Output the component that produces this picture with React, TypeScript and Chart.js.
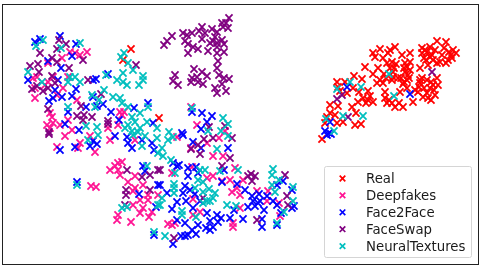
import React, { useEffect, useRef } from "react";
import { Chart, registerables } from "chart.js";

Chart.register(...registerables);

type P = [number, number];

const realPoints: P[] = [
  [437,41],[446,42],[453,50],[456,53],[451,55],[422,48],[430,47],[427,52],[422,53],[432,55],[433,60],[442,55],[448,60],[452,58],[440,62],[446,63],[437,63],[420,68],[428,65],[437,78],[433,85],[435,95],[427,93],[423,97],[418,92],[420,83],[422,78],[427,80],[430,88],[420,80],
  [395,47],[390,50],[380,49],[373,53],[375,57],[388,53],[383,58],[392,62],[387,63],[402,55],[410,53],[405,63],[407,67],[394,68],[378,68],[365,67],[373,74],[405,72],[408,75],[393,72],[407,80],[380,80],[383,83],[392,80],[385,92],[385,98],[400,92],[407,88],[413,102],[403,107],[395,107],[392,103],[363,98],[368,100],[373,102],[358,102],[352,107],[356,113],[355,125],[361,124],[368,91],[359,92],[362,79],[354,76],[337,82],[347,93],[338,106],[330,105],[330,113],[335,115],[325,123],[343,122],[337,123],[327,117],[338,87],
  [131,49],[123,60],[159,118],[322,139],[426,60],[449,52],[444,48],[415,90],[431,100],[398,78],[403,84],
  [410,62],[404,68],[410,70],[401,78],[409,78],[404,82],[377,83],[384,74],[390,68],[393,77],[386,78],[396,64],[424,88],[431,82],[434,90],[428,98],[419,87],[438,85],[425,50],[430,57],[424,58],[435,50],[389,100],[399,103],[387,103],[366,103],[370,96],[340,91],[345,82],[353,88],
];

const deepfakesPoints: P[] = [
  [70,52],[80,55],[87,52],[75,53],[62,58],[48,63],[33,78],[37,77],[53,77],[48,82],[45,85],[35,88],[35,98],[63,88],[57,95],[68,77],[77,100],[52,117],[50,113],[47,125],[53,123],[60,125],[68,120],[72,130],[120,112],[124,112],[122,115],[118,125],[108,128],[50,128],
  [65,136],[80,143],[78,148],[90,136],[95,152],[57,147],[110,140],[91,186],[96,187],[118,163],[122,162],[115,166],[110,170],[118,170],[120,175],[128,182],[135,176],[135,188],[143,185],[133,191],[148,195],[148,200],[140,200],[133,205],[143,208],[140,213],[149,217],[152,212],[118,215],[117,220],[131,222],[158,195],[135,140],
  [177,137],[207,143],[219,138],[213,156],[223,156],[191,148],[172,173],[192,167],[207,178],[213,176],[222,181],[230,180],[235,168],[243,180],[232,192],[237,188],[240,195],[257,191],[268,191],[267,201],[193,199],[193,215],[200,212],[172,225],[175,223],[168,224],[233,223],[233,227],[240,208],[280,216],[279,203],
  [191,107],[197,125],[225,131],
];

const face2facePoints: P[] = [
  [60,36],[40,39],[35,42],[76,44],[48,61],[72,56],[61,68],[28,80],[96,79],[93,80],[108,74],[76,89],[55,90],[62,97],[72,96],[53,98],[49,101],[86,107],[68,112],[97,106],[103,104],[93,97],[111,112],[134,108],[148,103],[119,120],[153,123],[65,124],[79,130],[58,80],
  [115,136],[127,137],[128,143],[132,148],[142,140],[152,143],[154,150],[75,147],[60,150],[93,141],[97,144],[90,146],[77,182],[143,166],[145,171],[139,194],[158,185],[156,207],[154,235],
  [183,135],[193,142],[201,148],[228,148],[173,163],[179,165],[177,166],[188,168],[188,176],[196,167],[198,173],[224,170],[222,182],[237,184],[160,185],[167,193],[185,186],[190,190],[183,193],[195,194],[186,201],[177,202],[200,201],[172,209],[193,208],[207,213],[217,215],[221,218],[218,222],[210,221],[230,218],[234,210],[243,219],[177,220],[185,223],[198,225],[206,228],[210,230],[213,227],[192,230],[196,234],[188,235],[185,236],[181,236],[173,244],[245,190],[252,196],[259,194],[248,207],[253,201],[258,203],[255,206],[260,201],[264,210],[267,196],[273,201],[277,205],[292,208],[292,190],[283,181],[277,185],[281,213],[262,219],[262,227],[277,225],[294,206],
  [192,112],[202,113],[212,116],[207,122],[201,129],[182,133],[347,87],[410,94],[330,122],[325,131],[329,133],[327,135],[331,134],
];

const faceSwapPoints: P[] = [
  [59,40],[66,44],[57,49],[40,53],[83,60],[57,62],[52,58],[30,66],[38,64],[39,72],[69,68],[52,76],[88,80],[32,89],[37,86],[43,91],[48,88],[55,83],[136,65],[101,94],[81,106],[48,109],[77,116],[84,115],[92,117],[83,120],[108,121],[108,124],[49,132],
  [49,134],[127,170],[142,177],[150,175],[158,170],[126,190],[126,195],[150,190],[125,205],
  [204,139],[213,138],[232,138],[191,149],[198,145],[200,154],[230,158],[160,170],[222,166],[251,174],[248,176],[255,176],[252,181],[285,175],[287,196],[203,198],[257,220],[174,238],[288,205],
  [229,18],[222,23],[226,23],[223,27],[228,28],[172,36],[167,41],[164,45],[183,33],[187,35],[192,33],[185,41],[188,44],[202,27],[199,31],[205,33],[202,39],[212,29],[217,32],[215,37],[213,41],[222,40],[210,43],[217,43],[224,44],[217,47],[208,51],[217,53],[224,52],[198,49],[193,47],[188,53],[218,61],[217,68],[219,75],[224,78],[229,79],[222,84],[215,88],[217,93],[226,91],[194,69],[202,72],[207,76],[192,78],[197,77],[191,82],[198,82],[203,84],[175,75],[173,81],[178,85],[209,127],[225,126],
  [432,72],[342,95],[337,99],[348,117],
];

const neuralTexturesPoints: P[] = [
  [43,40],[36,46],[80,43],[61,48],[28,72],[42,82],[70,77],[75,77],[68,82],[80,82],[124,53],[121,57],[128,63],[133,70],[106,75],[123,73],[117,80],[123,82],[127,85],[143,76],[143,80],[139,85],[104,90],[92,95],[99,100],[95,107],[113,97],[120,98],[122,103],[128,107],[140,113],[148,107],[68,107],[132,117],[128,125],[135,122],[140,128],[147,122],[157,128],[86,126],[97,127],[132,131],[138,132],[125,128],
  [98,135],[133,135],[145,136],[157,138],[142,146],[88,140],[158,153],[147,166],[77,185],[122,208],[127,207],[158,205],[154,232],
  [168,140],[173,137],[162,148],[163,156],[228,136],[217,149],[171,160],[175,173],[200,170],[205,170],[220,171],[238,170],[198,180],[203,182],[174,184],[174,188],[174,193],[195,188],[203,192],[209,189],[215,193],[213,198],[210,201],[203,203],[207,201],[227,205],[236,206],[182,211],[182,215],[196,217],[165,236],[273,169],[272,175],[272,185],[279,180],[275,192],[293,187],[293,201],[284,212],[277,223],[160,205],[162,198],
  [192,108],[223,118],[228,124],[208,131],[221,131],[169,132],
  [350,82],[337,89],[361,87],[389,74],[394,96],[343,116],[363,116],[326,119],[334,131],
];

const seriesLabels = ["Real", "Deepfakes", "Face2Face", "FaceSwap", "NeuralTextures"];
const seriesPoints = [realPoints, deepfakesPoints, face2facePoints, faceSwapPoints, neuralTexturesPoints];
const seriesColors = ["#ff0000", "#ff1493", "#0000ff", "#800080", "#00bfbf"];

const FONT = '13.3px "DejaVu Sans"';

const framePlugin = {
  id: "frame",
  afterDatasetsDraw(chart: any) {
    const { left, top, width, height } = chart.chartArea;
    const ctx = chart.ctx;
    ctx.save();
    ctx.strokeStyle = "#222222";
    ctx.lineWidth = 1;
    ctx.strokeRect(left + 0.5, top + 0.5, width, height);

    // legend box
    const bx = 324.5, by = 166.5, bw = 147, bh = 91;
    ctx.globalAlpha = 0.9;
    ctx.fillStyle = "#ffffff";
    ctx.beginPath();
    ctx.roundRect(bx, by, bw, bh, 2);
    ctx.fill();
    ctx.globalAlpha = 1;
    ctx.strokeStyle = "#d5d5d5";
    ctx.stroke();

    ctx.font = FONT;
    ctx.textBaseline = "alphabetic";
    ctx.textAlign = "left";
    seriesLabels.forEach((label, i) => {
      const cy = 178.5 + i * 16.9;
      const mx = 342.5;
      ctx.strokeStyle = seriesColors[i];
      ctx.lineWidth = 1.7;
      ctx.beginPath();
      ctx.moveTo(mx - 2.8, cy - 2.8);
      ctx.lineTo(mx + 2.8, cy + 2.8);
      ctx.moveTo(mx - 2.8, cy + 2.8);
      ctx.lineTo(mx + 2.8, cy - 2.8);
      ctx.stroke();
      ctx.fillStyle = "#1a1a1a";
      ctx.fillText(label, 366, cy + 4.5);
    });
    ctx.restore();
  },
};

export default function App() {
  const ref = useRef<HTMLCanvasElement>(null);
  useEffect(() => {
    if (!ref.current) return;
    const chart = new Chart(ref.current, {
      type: "scatter",
      data: {
        datasets: seriesLabels.map((label, i) => ({
          label,
          data: seriesPoints[i].map(([x, y]) => ({ x, y })),
          order: seriesLabels.length - i,
          pointStyle: "crossRot",
          pointRadius: 5,
          pointBorderWidth: 1.8,
          borderColor: seriesColors[i],
          backgroundColor: seriesColors[i],
          showLine: false,
        })),
      },
      options: {
        animation: false,
        responsive: false,
        layout: { autoPadding: false, padding: { left: 2, top: 4, right: 3, bottom: 2 } },
        plugins: { legend: { display: false }, tooltip: { enabled: false } },
        scales: {
          x: { type: "linear", min: 2, max: 478, display: false },
          y: { type: "linear", min: 4, max: 264, reverse: true, display: false },
        },
      },
      plugins: [framePlugin],
    } as any);
    return () => chart.destroy();
  }, []);
  return (
    <canvas
      ref={ref}
      width={481}
      height={266}
      style={{ position: "fixed", left: 0, top: 0, width: 481, height: 266, display: "block" }}
    />
  );
}
